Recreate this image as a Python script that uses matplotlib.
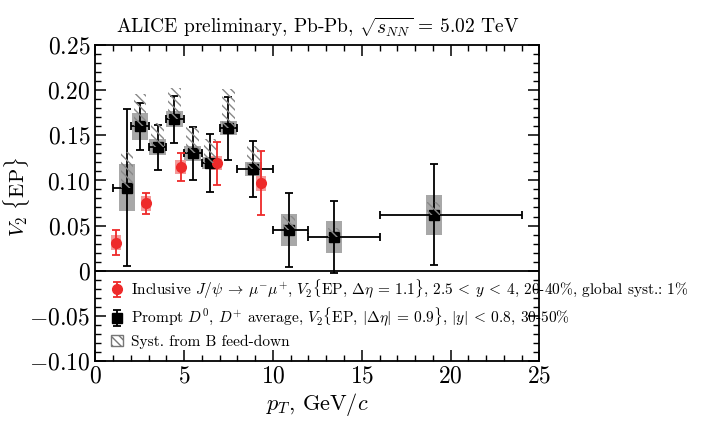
import matplotlib
matplotlib.use('Agg')
import matplotlib.pyplot as plt
from matplotlib.patches import Rectangle, Patch
from matplotlib.ticker import MultipleLocator, FuncFormatter

# prompt D0, D+ average, V2{EP}, 30-50%
d_x = [1.77, 2.52, 3.51, 4.45, 5.48, 6.45, 7.49, 8.9, 10.92, 13.45, 19.05]
d_lo = [1, 2, 3, 4, 5, 6, 7, 8, 10, 12, 16]
d_hi = [2, 3, 4, 5, 6, 7, 8, 10, 12, 16, 24]
d_y = [0.092, 0.160, 0.137, 0.168, 0.130, 0.1195, 0.158, 0.113, 0.045, 0.037, 0.062]
d_stat = [0.087, 0.026, 0.025, 0.026, 0.029, 0.032, 0.035, 0.031, 0.041, 0.040, 0.056]
d_syst = [0.026, 0.015, 0.009, 0.009, 0.008, 0.007, 0.008, 0.008, 0.0175, 0.0175, 0.022]
d_fd = [0.040, 0.036, 0.027, 0.034, 0.029, 0.027, 0.043, 0.025, 0.016, 0.010, 0.014]  # B feed-down (upward)

# inclusive J/psi, V2{EP}, 20-40%
j_x = [1.16, 2.85, 4.8, 6.83, 9.33]
j_y = [0.031, 0.0745, 0.115, 0.119, 0.097]
j_stat = [0.014, 0.012, 0.0155, 0.024, 0.0355]
j_syst = [0.008, 0.0085, 0.008, 0.0078, 0.0083]

plt.rcParams['font.family'] = 'cmr10'
plt.rcParams['mathtext.fontset'] = 'cm'
plt.rcParams['axes.formatter.use_mathtext'] = True
plt.rcParams['hatch.linewidth'] = 1.0

fig = plt.figure(figsize=(7.06, 4.26), dpi=100)
ax = fig.add_axes([0.135, 0.153, 0.629, 0.741])

red = '#ee2a2a'

# systematic boxes
for x, y, s in zip(d_x, d_y, d_syst):
    ax.add_patch(Rectangle((x - 0.46, y - s), 0.92, 2 * s, facecolor='#a8a8a8',
                           edgecolor='none', zorder=2))
for x, y, s in zip(j_x, j_y, j_syst):
    ax.add_patch(Rectangle((x - 0.29, y - s), 0.58, 2 * s, facecolor='#f49a9a',
                           edgecolor='none', zorder=2))

# D mesons
ax.errorbar(d_x, d_y, xerr=[[x - l for x, l in zip(d_x, d_lo)], [h - x for x, h in zip(d_x, d_hi)]],
            fmt='none', ecolor='black', elinewidth=1.3, capsize=3, capthick=1.3, zorder=3)
hd = ax.errorbar(d_x, d_y, yerr=d_stat, fmt='s', color='black', ms=6.5,
                 elinewidth=1.3, capsize=3, capthick=1.3, zorder=4)

# J/psi
hj = ax.errorbar(j_x, j_y, yerr=j_stat, fmt='o', color=red, ms=7,
                 elinewidth=1.3, capsize=3, capthick=1.3, zorder=4)

# feed-down hatch
for x, y, f in zip(d_x, d_y, d_fd):
    ax.add_patch(Rectangle((x - 0.35, y), 0.7, f, fill=False, edgecolor='#888888',
                           linewidth=0, hatch='\\\\\\\\', zorder=5))

ax.axhline(0, color='black', lw=1.3, zorder=1)

ax.set_xlim(0, 25)
ax.set_ylim(-0.10, 0.25)
ax.xaxis.set_major_locator(MultipleLocator(5))
ax.xaxis.set_minor_locator(MultipleLocator(1))
ax.yaxis.set_major_locator(MultipleLocator(0.05))
ax.yaxis.set_minor_locator(MultipleLocator(0.01))
ax.yaxis.set_major_formatter(FuncFormatter(lambda v, p: '$0$' if abs(v) < 1e-9 else '$%.2f$' % v))
ax.xaxis.set_major_formatter(FuncFormatter(lambda v, p: '$%d$' % round(v)))
ax.tick_params(which='both', direction='in', top=True, right=True, labelsize=17)
ax.tick_params(which='major', length=8, width=1.1)
ax.tick_params(which='minor', length=4, width=1.0)
for s in ax.spines.values():
    s.set_linewidth(1.3)

ax.set_xlabel('$p_{T}$, GeV/$c$', fontsize=16, labelpad=2)
ax.set_ylabel(r'$V_{2}$ $\{$EP$\}$', fontsize=15)
ax.yaxis.set_label_coords(-0.142, 0.52)
ax.set_title(r'ALICE preliminary, Pb-Pb, $\sqrt{s_{NN}}$ = 5.02 TeV', fontsize=14, pad=9)

hfd = Patch(facecolor='white', edgecolor='#777777', hatch='\\\\\\\\')
lab_j = (r'Inclusive $J/\psi \:\rightarrow\: \mu^{-}\mu^{+}$, $V_{2}\{$EP, $\Delta\eta$ = 1.1$\}$, '
         r'$2.5\:<\:y\:<\:4$, 20-40%, global syst.: 1%')
lab_d = (r'Prompt $D^{0}$, $D^{+}$ average, $V_{2}\{$EP, $|\Delta\eta|$ = 0.9$\}$, '
         r'$|y|\:<\:0.8$, 30-50%')
ax.legend([hj, hd, hfd], [lab_j, lab_d, 'Syst. from B feed-down'],
          loc='upper left', bbox_to_anchor=(0.021, 0.285), frameon=False, fontsize=11.1,
          handlelength=0.8, handletextpad=0.5, labelspacing=0.35, borderaxespad=0)

fig.savefig('out.png', dpi=100)
